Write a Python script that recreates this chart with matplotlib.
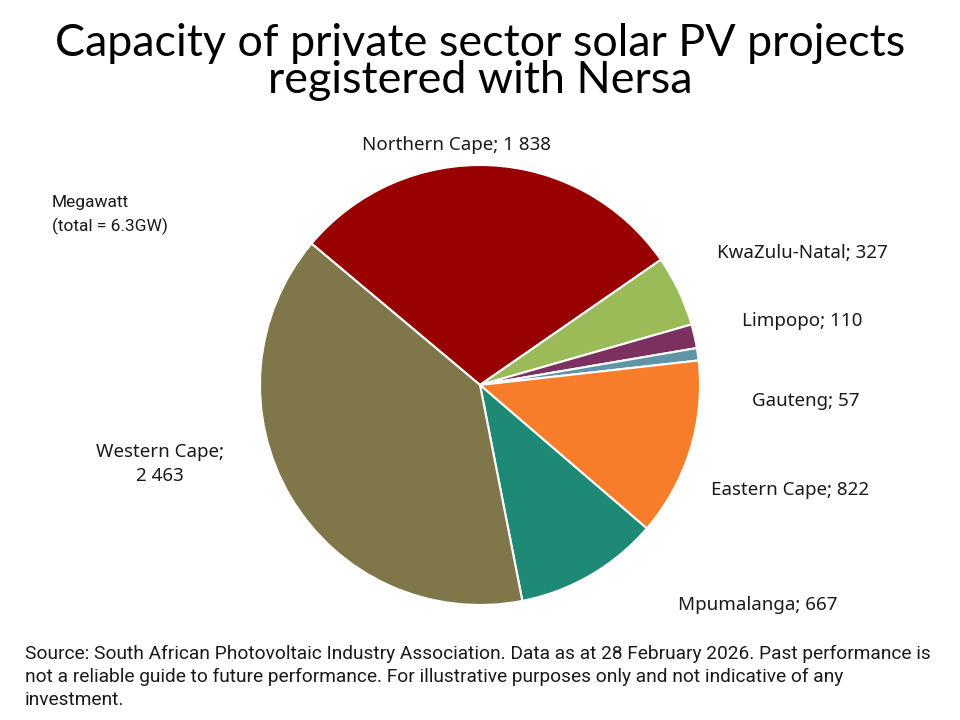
import matplotlib
matplotlib.use("Agg")
import matplotlib.pyplot as plt
import numpy as np

regions = ["Northern Cape", "KwaZulu-Natal", "Limpopo", "Gauteng",
           "Eastern Cape", "Mpumalanga", "Western Cape"]
values = [1838, 327, 110, 57, 822, 667, 2463]
value_labels = ["1 838", "327", "110", "57", "822", "667", "2 463"]
colors = ["#990000", "#9BBB59", "#7B3060", "#6095A5", "#F77D2A", "#1E8A76", "#7F774A"]

title = "Capacity of private sector solar PV projects\nregistered with Nersa"
unit_note = "Megawatt\n(total = 6.3GW)"
source = ("Source: South African Photovoltaic Industry Association. Data as at 28 February 2026. Past performance is\n"
          "not a reliable guide to future performance. For illustrative purposes only and not indicative of any\n"
          "investment.")

W, H = 960, 720
fig = plt.figure(figsize=(9.6, 7.2), dpi=100)
ax = fig.add_axes([0, 0, 1, 1])
ax.set_xlim(0, W)
ax.set_ylim(0, H)
ax.set_aspect("equal")
ax.axis("off")

cx, cy, R = 480, H - 385, 220
wedges, _ = ax.pie(values, colors=colors, startangle=140, counterclock=False,
                   center=(cx, cy), radius=R,
                   wedgeprops=dict(edgecolor="white", linewidth=1.5))
ax.set_xlim(0, W)
ax.set_ylim(0, H)

# label placement (pixel offsets from pie centre)
label_pos = [(-23, 240), (322, 132), (322, 64), (326, -16), (310, -105), (278, -220), (-320, -79)]
label_font = ["Noto Sans", "DejaVu Sans"]
for name, vl, (dx, dy) in zip(regions, value_labels, label_pos):
    txt = f"{name}; {vl}" if name != "Western Cape" else f"{name};\n{vl}"
    ax.text(cx + dx, cy + dy, txt, ha="center", va="center", fontsize=13.5,
            family=label_font, color="#1a1a1a", linespacing=1.45)

narrow = ["Liberation Sans Narrow", "Roboto", "DejaVu Sans"]
ax.text(52, H - 215, unit_note, ha="left", va="center", fontsize=12.5,
        family=narrow, color="#1a1a1a", linespacing=1.55)

fig.text(0.5, 1 - 62 / H, title, ha="center", va="center", fontsize=32.3,
         family=["Lato", "DejaVu Sans"], color="black", linespacing=0.85)

fig.text(25 / W, 1 - 677 / H, source, ha="left", va="center", fontsize=13.8,
         family=narrow, color="#1a1a1a", linespacing=1.38)

fig.savefig("out.png", dpi=100, facecolor="white")
